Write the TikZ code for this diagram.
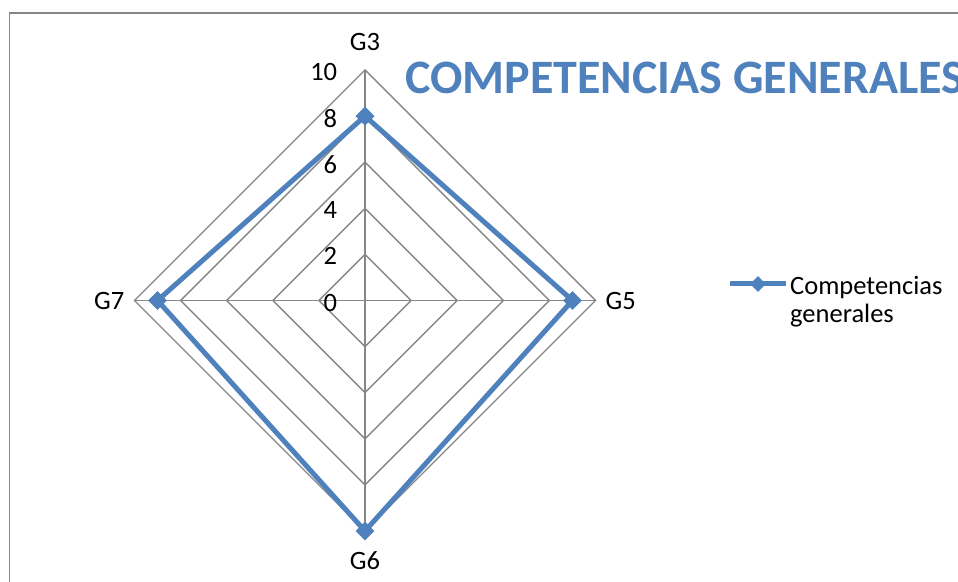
\documentclass[tikz,border=0pt]{standalone}
\usepackage{fontspec}
\setmainfont{Carlito}
\usetikzlibrary{shapes.geometric,positioning}
\definecolor{azul}{HTML}{4F81BD}
\definecolor{gris}{HTML}{868686}
\pgfdeclarelayer{fondo}
\pgfsetlayers{fondo,main}
\tikzset{
	rejilla/.style={draw=gris, line width=1.4bp},
	serie/.style={draw=azul, line width=5bp, line join=miter},
	punto/.style={diamond, fill=azul, inner sep=0pt, minimum size=19bp},
	eje/.style={font=\fontsize{26.5bp}{31bp}\selectfont, inner sep=0pt},
}
\begin{document}
\begin{tikzpicture}[x=1bp,y=1bp]
		\useasboundingbox (0,0) rectangle (958,582);
		\draw[gris, line width=1.5bp] (9.5,0) -- (9.5,569) -- (958,569);
		\node[anchor=base west, inner sep=0pt, text=azul, font=\fontsize{48bp}{56bp}\selectfont\bfseries] (titulo) at (405,488) {COMPETENCIAS GENERALES};
		\begin{scope}[shift={(365,281.5)}, x=23.05bp, y=23.05bp]
			\coordinate (c) at (0,0);
			\coordinate (g3) at (0,10);
			\coordinate (g5) at (10,0);
			\coordinate (g6) at (0,-10);
			\coordinate (g7) at (-10,0);
			\begin{pgfonlayer}{fondo}
				\foreach \r in {2,4,...,10}
					\draw[rejilla] (0,\r) -- (\r,0) -- (0,-\r) -- (-\r,0) -- cycle;
				\draw[rejilla] (g3) -- (g6);
				\draw[rejilla] (g7) -- (g5);
			\end{pgfonlayer}
			\foreach \r in {0,2,...,10}
				\node[eje, anchor=east, yshift=-2bp] (n\r) at (-1.2,\r) {\r};
			\node[eje, above=19bp of g3] (l3) {G3};
			\node[eje, right=10bp of g5] (l5) {G5};
			\node[eje, below=20bp of g6] (l6) {G6};
			\node[eje, left=10bp of g7] (l7) {G7};
			\node[punto] (p3) at (0,8) {};
			\node[punto] (p5) at (9,0) {};
			\node[punto] (p6) at (0,-10) {};
			\node[punto] (p7) at (-9,0) {};
			\begin{pgfonlayer}{fondo}
				\draw[serie] (p3.center) -- (p5.center) -- (p6.center) -- (p7.center) -- cycle;
			\end{pgfonlayer}
		\end{scope}
		\coordinate (la) at (730,298);
		\coordinate (lb) at (786,298);
		\draw[serie] (la) -- (lb);
		\node[punto, minimum size=16bp] (lp) at (758,298) {};
		\node[eje, anchor=base west] (ley1) at (790,287) {Competencias};
		\node[eje, anchor=base west] (ley2) at (790,259) {generales};
	\end{tikzpicture}
\end{document}
